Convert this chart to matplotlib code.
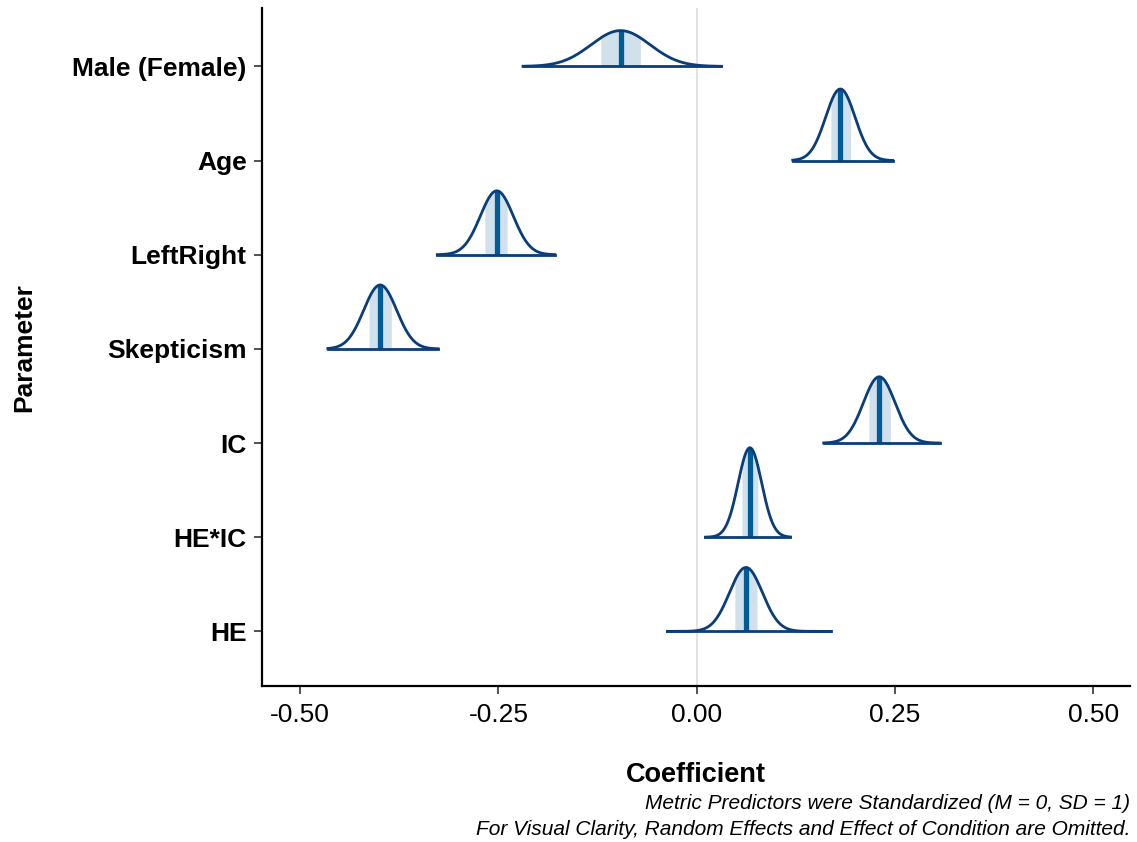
import numpy as np
import matplotlib.pyplot as plt

plt.rcParams['font.family'] = ['Liberation Sans', 'DejaVu Sans']

# posterior summaries per parameter (bottom to top)
params = ["HE", "HE*IC", "IC", "Skepticism", "LeftRight", "Age", "Male (Female)"]
medians = [0.062, 0.067, 0.230, -0.399, -0.252, 0.181, -0.096]
inner_lo = [0.048, 0.057, 0.217, -0.413, -0.267, 0.169, -0.121]
inner_hi = [0.076, 0.077, 0.244, -0.385, -0.239, 0.194, -0.071]
outer_lo = [-0.037, 0.011, 0.160, -0.465, -0.327, 0.121, -0.219]
outer_hi = [0.169, 0.118, 0.306, -0.326, -0.179, 0.247, 0.031]

line_col = "#0b3d78"
mid_col = "#005b96"
fill_col = "#d1e1ec"

fig = plt.figure(figsize=(11.37, 8.42), dpi=100)
ax = fig.add_axes([0.2304, 0.1853, 0.7634, 0.8052])

ax.axvline(0, color="#dddddd", lw=1.2, zorder=0)

# normal approximation: sd from the 50% interval width
sds = [(h - l) / (2 * 0.674) for l, h in zip(inner_lo, inner_hi)]
peak = max(1 / s for s in sds)
scale = 0.95 / peak

for i, name in enumerate(params):
    y0 = i + 1
    m, s = medians[i], sds[i]
    xs = np.linspace(outer_lo[i], outer_hi[i], 300)
    dens = scale * np.exp(-0.5 * ((xs - m) / s) ** 2) / s
    xi = np.linspace(inner_lo[i], inner_hi[i], 100)
    di = scale * np.exp(-0.5 * ((xi - m) / s) ** 2) / s
    ax.fill_between(xi, y0, y0 + di, color=fill_col, lw=0, zorder=1)
    dm = scale / s
    ax.plot([m, m], [y0, y0 + dm], color=mid_col, lw=3.8, zorder=2,
            solid_capstyle="butt")
    ax.plot(xs, y0 + dens, color=line_col, lw=2.0, zorder=3)
    ax.plot([outer_lo[i], outer_hi[i]], [y0, y0], color=line_col, lw=2.0,
            zorder=3)

ax.set_xlim(-0.548, 0.546)
ax.set_ylim(0.42, 7.62)
ax.set_xticks([-0.5, -0.25, 0, 0.25, 0.5])
ax.set_xticklabels(["-0.50", "-0.25", "0.00", "0.25", "0.50"])
ax.set_yticks(range(1, len(params) + 1))
ax.set_yticklabels(params, fontweight="bold")
ax.tick_params(axis="both", labelsize=19, width=1.2, length=6, color="#333333")
ax.tick_params(axis="x", pad=6)
ax.tick_params(axis="y", pad=5)

for side in ["top", "right"]:
    ax.spines[side].set_visible(False)
for side in ["left", "bottom"]:
    ax.spines[side].set_linewidth(1.6)

ax.set_xlabel("Coefficient", fontsize=19.5, fontweight="bold")
ax.xaxis.set_label_coords(0.5, -0.112)
ax.set_ylabel("Parameter", fontsize=19, fontweight="bold")
ax.yaxis.set_label_coords(-0.260, 0.4985)

fig.text(0.9938, 0.0463, "Metric Predictors were Standardized (M = 0, SD = 1)",
         ha="right", va="center", fontsize=15, style="italic")
fig.text(0.9938, 0.0143,
         "For Visual Clarity, Random Effects and Effect of Condition are Omitted.",
         ha="right", va="center", fontsize=15, style="italic")

fig.savefig("out.png", dpi=100)
